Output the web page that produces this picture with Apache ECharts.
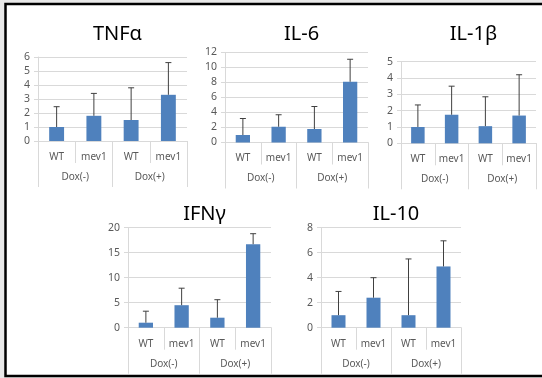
<!DOCTYPE html>
<html>
<head>
<meta charset="utf-8">
<script src="https://cdn.jsdelivr.net/npm/echarts@6/dist/echarts.min.js"></script>
<style>
  html, body { margin: 0; padding: 0; background: #e8e8e8; overflow: hidden; }
  #chart { width: 542px; height: 378px; }
</style>
</head>
<body>
<div id="chart"></div>
<script>
var groups = ['Dox(-)', 'Dox(+)']
var genotypes = ['WT', 'mev1', 'WT', 'mev1']
var titles = ['TNFα', 'IL-6', 'IL-1β', 'IFNγ', 'IL-10']

var tnfMean = [1.0, 1.8, 1.5, 3.3]
var tnfErr = [1.45, 1.6, 2.3, 2.3]
var il6Mean = [1.0, 2.1, 1.8, 8.1]
var il6Err = [2.2, 1.6, 3.0, 3.0]
var il1bMean = [1.0, 1.75, 1.05, 1.7]
var il1bErr = [1.35, 1.75, 1.8, 2.5]
var ifngMean = [1.0, 4.5, 2.0, 16.7]
var ifngErr = [2.3, 3.4, 3.6, 2.1]
var il10Mean = [1.0, 2.4, 1.0, 4.9]
var il10Err = [1.9, 1.6, 4.5, 2.05]

var yMax = [6, 12, 5, 20, 8]
var yStep = [1, 2, 1, 5, 2]

var means = [tnfMean, il6Mean, il1bMean, ifngMean, il10Mean]
var errs = [tnfErr, il6Err, il1bErr, ifngErr, il10Err]

// plot boxes in px: left, top, width, height
var boxes = [
  [38, 57, 149, 84],
  [225, 52.5, 143, 90],
  [401, 61.7, 135, 81.6],
  [128, 227.7, 143, 100],
  [321, 227.7, 140, 100]
]

var font = 'Noto Sans'
var gridColor = '#D9D9D9'
var labelColor = '#595959'

var chart = echarts.init(document.getElementById('chart'))

var option = {
  animation: false,
  backgroundColor: 'transparent',
  title: [],
  grid: [],
  xAxis: [],
  yAxis: [],
  series: [],
  graphic: [
    {
      type: 'rect',
      shape: { x: 5, y: 4, width: 540, height: 372 },
      style: { fill: '#fff' },
      z: -10
    },
    {
      // frame is open on the right side
      type: 'polyline',
      shape: { points: [[545, 4], [5.5, 4], [5.5, 376], [545, 376]] },
      style: { fill: null, stroke: '#000', lineWidth: 2.5 },
      z: -9
    }
  ]
}

for (var i = 0; i < boxes.length; i++) {
  var b = boxes[i]
  option.title.push({
    text: titles[i],
    left: b[0] + b[2] / 2,
    top: i < 3 ? 19 : 199,
    textAlign: 'center',
    textStyle: { fontFamily: font, fontSize: 20, fontWeight: 'normal', color: '#000' }
  })
  option.grid.push({ left: b[0], top: b[1], width: b[2], height: b[3] })
  option.xAxis.push({
    type: 'category',
    gridIndex: i,
    data: genotypes,
    axisLine: { show: true, lineStyle: { color: gridColor } },
    axisTick: { show: true, interval: 0, length: 22, lineStyle: { color: gridColor } },
    axisLabel: { margin: 11, color: labelColor, fontFamily: font, fontSize: 10 }
  })
  option.xAxis.push({
    type: 'category',
    gridIndex: i,
    position: 'bottom',
    data: groups,
    axisLine: { show: false },
    axisTick: { show: true, interval: 0, length: 46, lineStyle: { color: gridColor } },
    axisLabel: { margin: 31, color: labelColor, fontFamily: font, fontSize: 10 }
  })
  option.yAxis.push({
    type: 'value',
    gridIndex: i,
    min: 0,
    max: yMax[i],
    interval: yStep[i],
    axisLine: { show: true, lineStyle: { color: gridColor } },
    axisTick: { show: true, length: 4, lineStyle: { color: gridColor } },
    splitLine: { show: true, lineStyle: { color: gridColor } },
    axisLabel: { margin: 8, color: labelColor, fontFamily: font, fontSize: 10.5 }
  })

  var errData = []
  for (var j = 0; j < means[i].length; j++) {
    errData.push([j, means[i][j], means[i][j] + errs[i][j]])
  }

  option.series.push({
    type: 'bar',
    xAxisIndex: i * 2,
    yAxisIndex: i,
    data: means[i],
    barWidth: '40%',
    itemStyle: { color: '#4F81BD' }
  })
  option.series.push({
    type: 'custom',
    xAxisIndex: i * 2,
    yAxisIndex: i,
    data: errData,
    encode: { x: 0, y: [1, 2] },
    z: 5,
    renderItem: function(params, api) {
      var base = api.coord([api.value(0), api.value(1)])
      var top = api.coord([api.value(0), api.value(2)])
      var st = { stroke: '#404040', lineWidth: 1 }
      return {
        type: 'group',
        children: [
          { type: 'line', shape: { x1: base[0], y1: base[1], x2: base[0], y2: top[1] }, style: st },
          { type: 'line', shape: { x1: base[0] - 3, y1: top[1], x2: base[0] + 3, y2: top[1] }, style: st }
        ]
      }
    }
  })
}

chart.setOption(option)
</script>
</body>
</html>
